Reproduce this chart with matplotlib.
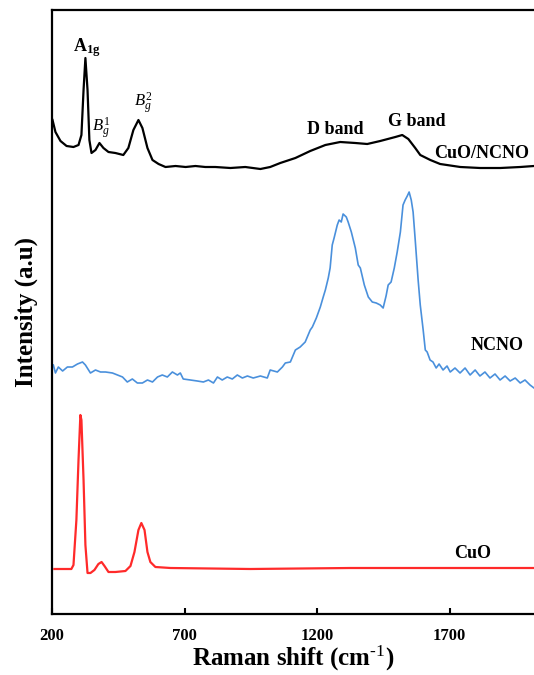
import matplotlib.pyplot as plt
import numpy as np

plt.rcParams['font.family'] = 'Liberation Serif'
plt.rcParams['mathtext.fontset'] = 'custom'
plt.rcParams['mathtext.rm'] = 'Liberation Serif'
plt.rcParams['mathtext.it'] = 'Liberation Serif:italic'
plt.rcParams['mathtext.bf'] = 'Liberation Serif:bold'

# CuO/NCNO composite (black, top trace)
comp_x = [202, 213, 232, 255, 281, 300, 311, 319, 326, 334, 341, 349, 364, 379, 394, 413,
          439, 469, 488, 507, 526, 541, 560, 579, 602, 628, 666, 704, 741, 778, 816, 873,
          929, 986, 1023, 1061, 1118, 1174, 1231, 1287, 1344, 1389, 1438, 1495, 1521, 1544,
          1570, 1589, 1627, 1664, 1740, 1815, 1891, 1966, 2018]
comp_y = [494, 482, 473, 468, 467, 469, 479, 524, 556, 524, 474, 461, 464, 471, 466, 462,
          461, 459, 466, 484, 494, 486, 466, 454, 450, 447, 448, 447, 448, 447, 447, 446,
          447, 445, 447, 451, 456, 463, 469, 472, 471, 470, 473, 477, 479, 475,
          466, 459, 454, 450, 447, 446, 446, 447, 448]

# NCNO (blue, middle trace)
ncno_x = [205, 213, 224, 240, 258, 277, 296, 315, 326, 345, 364, 383, 402, 428, 447, 466,
          484, 503, 522, 541, 560, 579, 598, 616, 635, 654, 673, 684, 695, 722, 748, 771,
          790, 809, 824, 842, 861, 880, 899, 918, 937, 959, 986, 1012, 1023, 1050, 1069,
          1080, 1099, 1118, 1136, 1155, 1174, 1182, 1197, 1212, 1223, 1231, 1242, 1249,
          1257, 1264, 1276, 1283, 1291, 1298, 1310, 1317, 1329, 1344, 1355, 1363, 1378,
          1393, 1408, 1423, 1438, 1449, 1460, 1468, 1479, 1491, 1502, 1514, 1524, 1532,
          1540, 1547, 1555, 1562, 1570, 1581, 1589, 1600, 1608, 1615, 1626, 1637, 1649,
          1660, 1675, 1690, 1702, 1720, 1739, 1758, 1777, 1796, 1814, 1833, 1852, 1871,
          1890, 1909, 1928, 1947, 1966, 1984, 2003, 2018]
ncno_y = [249, 241, 247, 243, 247, 247, 250, 252, 249, 241, 244, 242, 242, 241, 239, 237,
          232, 235, 231, 231, 234, 232, 237, 239, 237, 242, 239, 241, 235, 234, 233, 232,
          234, 231, 237, 234, 237, 235, 239, 236, 238, 236, 238, 236, 244, 242, 247,
          251, 252, 264, 267, 272, 284, 287, 296, 307, 317, 324, 336, 346,
          369, 376, 389, 394, 392, 400, 397, 392, 382, 366, 349, 346, 329,
          317, 312, 311, 309, 306, 318, 329, 332, 346, 362, 382, 409, 414,
          418, 422, 414, 402, 374, 334, 309, 284, 264, 262, 254, 252, 246,
          250, 244, 248, 242, 246, 241, 246, 239, 244, 238, 242, 236, 240,
          234, 238, 233, 236, 231, 234, 229, 226]

# CuO (red, bottom trace)
cuo_x = [209, 273, 281, 292, 300, 307, 311, 319, 326, 334, 345, 360, 375, 387, 398, 413,
         439, 477, 496, 511, 526, 537, 549, 560, 571, 590, 647, 948, 1325, 1702, 2018]
cuo_y = [45, 45, 49, 94, 154, 199, 194, 134, 69, 41, 41, 44, 50, 52, 48, 42,
         42, 43, 48, 62, 84, 91, 84, 62, 52, 47, 46, 45, 46, 46, 46]

xticks = [200, 700, 1200, 1700]

fig = plt.figure(figsize=(5.34, 6.75), dpi=100)
ax = fig.add_axes([52 / 534, 61 / 675, 482 / 534, 604 / 675])

ax.plot(comp_x, comp_y, color='black', lw=1.6)
ax.plot(ncno_x, ncno_y, color='#4a90dc', lw=1.2)
ax.plot(cuo_x, cuo_y, color='#ff2a2a', lw=1.6)

ax.set_xlim(200, 2018)
ax.set_ylim(0, 604)

# peak annotations
ax.text(330, 566, r'$\mathbf{A_{1g}}$', ha='center', va='center', fontsize=13)
ax.text(387, 486, r'$B_g^1$', ha='center', va='center', fontsize=12)
ax.text(545, 511, r'$B_g^2$', ha='center', va='center', fontsize=12)
ax.text(1268, 484, 'D band', ha='center', va='center', fontsize=13, fontweight='bold')
ax.text(1577, 492, 'G band', ha='center', va='center', fontsize=13, fontweight='bold')
ax.text(1822, 461, 'CuO/NCNO', ha='center', va='center', fontsize=13, fontweight='bold')
ax.text(1878, 269, 'NCNO', ha='center', va='center', fontsize=13, fontweight='bold')
ax.text(1788, 60, 'CuO', ha='center', va='center', fontsize=13, fontweight='bold')

ax.spines['right'].set_visible(False)
for s in ['left', 'top', 'bottom']:
    ax.spines[s].set_linewidth(1.6)

ax.set_xticks(xticks)
ax.set_xticklabels([str(t) for t in xticks], fontsize=12, fontweight='bold')
ax.tick_params(axis='x', direction='in', length=4, width=1.5, pad=10)
ax.set_yticks([])

ax.set_xlabel('Raman shift (cm$^{\\mathbf{\u2010}1}$)', fontsize=18, fontweight='bold', labelpad=0)
ax.set_ylabel('Intensity (a.u)', fontsize=18, fontweight='bold', labelpad=10)

fig.savefig('out.png', dpi=100)
